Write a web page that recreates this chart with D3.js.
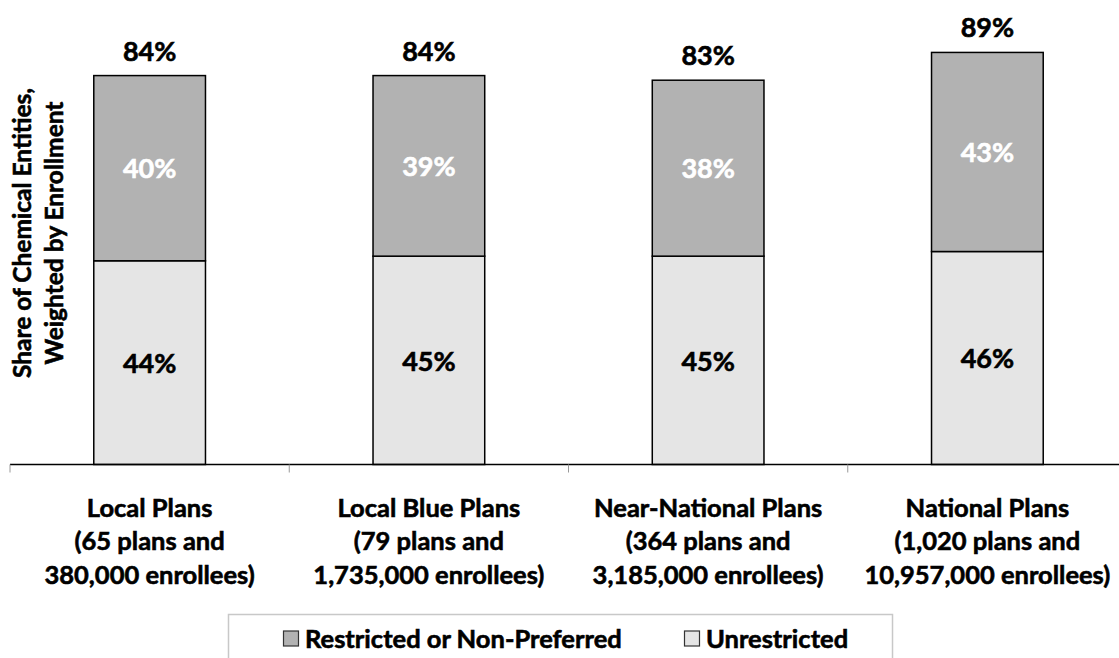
<!DOCTYPE html>
<html>
<head>
<meta charset="utf-8">
<script src="https://cdn.jsdelivr.net/npm/d3@7"></script>
<style>
  html, body { margin: 0; padding: 0; background: #fff; }
  svg text { font-family: Lato, "Open Sans", sans-serif; font-weight: 700; paint-order: stroke; }
</style>
</head>
<body>
<svg id="chart" width="1119" height="658"></svg>
<script>
// Plan groups and their two-line descriptions
const categories = ["Local Plans", "Local Blue Plans", "Near-National Plans", "National Plans"];
const categoryNotes = [
  ["(65 plans and", "380,000 enrollees)"],
  ["(79 plans and", "1,735,000 enrollees)"],
  ["(364 plans and", "3,185,000 enrollees)"],
  ["(1,020 plans and", "10,957,000 enrollees)"]
];
// Shares (%) stacked from the bottom
const unrestricted = [44, 45, 45, 46];
const restricted = [40, 39, 38, 43];
const totals = [84, 84, 83, 89];
const seriesNames = ["Restricted or Non-Preferred", "Unrestricted"];

const colors = { restricted: "#b2b2b2", unrestricted: "#e5e5e5" };

const svg = d3.select("#chart");
const x = d3.scaleBand().domain(categories).range([10, 1127]).paddingInner(0).paddingOuter(0);
const y = d3.scaleLinear().domain([0, 100]).range([464.5, 1.5]);
const barW = x.bandwidth() * 0.4;

const rows = categories.map((c, i) => ({
  c, u: unrestricted[i], r: restricted[i], t: totals[i]
}));

// Bold text helper with a hairline outline for extra weight
function label(sel, color, size) {
  return sel.attr("font-size", size).attr("fill", color)
    .attr("stroke", color).attr("stroke-width", 0.6);
}

// Stacked bars
const g = svg.append("g");
rows.forEach(d => {
  const cx = x(d.c) + x.bandwidth() / 2;
  g.append("rect")
    .attr("x", cx - barW / 2).attr("width", barW)
    .attr("y", y(d.u)).attr("height", y(0) - y(d.u))
    .attr("fill", colors.unrestricted).attr("stroke", "#000").attr("stroke-width", 1.5);
  g.append("rect")
    .attr("x", cx - barW / 2).attr("width", barW)
    .attr("y", y(d.u + d.r)).attr("height", y(d.u) - y(d.u + d.r))
    .attr("fill", colors.restricted).attr("stroke", "#000").attr("stroke-width", 1.5);

  label(g.append("text"), "#000", 27).attr("x", cx).attr("y", y(d.u / 2)).attr("dy", "0.38em")
    .attr("text-anchor", "middle").text(d.u + "%");
  label(g.append("text"), "#fff", 27).attr("x", cx).attr("y", y(d.u + d.r / 2)).attr("dy", "0.38em")
    .attr("text-anchor", "middle").text(d.r + "%");
  label(g.append("text"), "#000", 27).attr("x", cx).attr("y", y(d.t) - 15)
    .attr("text-anchor", "middle").text(d.t + "%");
});

// Category axis
const axis = svg.append("g").attr("transform", `translate(0,${y(0)})`);
axis.append("line").attr("x1", 10).attr("x2", 1119).attr("y1", 0).attr("y2", 0)
  .attr("stroke", "#000").attr("stroke-width", 1.5);
categories.forEach(c => {
  axis.append("line").attr("x1", x(c)).attr("x2", x(c)).attr("y1", 0).attr("y2", 8)
    .attr("stroke", "#999").attr("stroke-width", 1);
});
categories.forEach((c, i) => {
  const cx = x(c) + x.bandwidth() / 2;
  const t = label(axis.append("text"), "#000", 25.5).attr("text-anchor", "middle");
  [c].concat(categoryNotes[i]).forEach((line, k) => {
    t.append("tspan").attr("x", cx).attr("y", 52.5 + k * 33.3).text(line);
  });
});

// Axis title
const yt = label(svg.append("text"), "#000", 24.5).attr("transform", "translate(0,233) rotate(-90)")
  .attr("text-anchor", "middle");
yt.append("tspan").attr("x", 0).attr("y", 31).text("Share of Chemical Entities,");
yt.append("tspan").attr("x", 0).attr("y", 63).text("Weighted by Enrollment");

// Legend
const lg = svg.append("g");
lg.append("rect").attr("x", 228.5).attr("y", 614.5).attr("width", 664).attr("height", 60)
  .attr("fill", "#fff").attr("stroke", "#c8c8c8").attr("stroke-width", 1.5);
const legendItems = [
  { name: seriesNames[0], fill: colors.restricted, x: 283.5 },
  { name: seriesNames[1], fill: colors.unrestricted, x: 684.5 }
];
legendItems.forEach(it => {
  lg.append("rect").attr("x", it.x).attr("y", 631).attr("width", 15).attr("height", 15)
    .attr("fill", it.fill).attr("stroke", "#333").attr("stroke-width", 1.2);
  label(lg.append("text"), "#000", 25.5).attr("x", it.x + 21.5).attr("y", 647.5)
    .text(it.name);
});
</script>
</body>
</html>
